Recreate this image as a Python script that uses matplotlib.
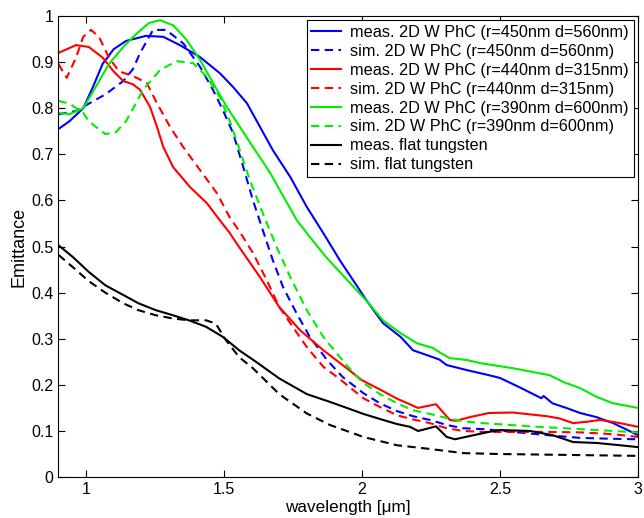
import matplotlib
matplotlib.use("Agg")
import matplotlib.pyplot as plt

plt.rcParams['font.family'] = ['Liberation Sans', 'DejaVu Sans']

# measured / simulated emittance curves (wavelength in um)
wl_blue_meas = [0.9, 0.94, 0.99, 1.025, 1.06, 1.10, 1.145, 1.217, 1.28, 1.34, 1.413, 1.485, 1.533,
                1.583, 1.63, 1.677, 1.74, 1.80, 1.86, 1.92, 2.02, 2.076, 2.14, 2.185, 2.257, 2.28,
                2.307, 2.38, 2.46, 2.50, 2.57, 2.65, 2.658, 2.69, 2.74, 2.79, 2.85, 2.91, 3.0]
em_blue_meas = [0.755, 0.772, 0.80, 0.846, 0.896, 0.928, 0.946, 0.957, 0.955, 0.937, 0.911, 0.876, 0.846,
                0.811, 0.76, 0.709, 0.651, 0.586, 0.529, 0.47, 0.38, 0.334, 0.304, 0.275, 0.26, 0.255,
                0.243, 0.232, 0.221, 0.215, 0.195, 0.171, 0.176, 0.16, 0.15, 0.139, 0.13, 0.117, 0.091]

wl_blue_sim = [0.9, 0.964, 1.01, 1.07, 1.135, 1.17, 1.196, 1.243, 1.29, 1.352, 1.413, 1.46, 1.496,
               1.533, 1.57, 1.605, 1.637, 1.677, 1.714, 1.763, 1.811, 1.873, 1.93, 2.005,
               2.065, 2.127, 2.185, 2.246, 2.307, 2.366, 2.44, 2.548, 2.67, 2.79, 2.91, 3.0]
em_blue_sim = [0.787, 0.794, 0.81, 0.83, 0.859, 0.885, 0.92, 0.97, 0.97, 0.941, 0.89, 0.84, 0.796,
               0.746, 0.672, 0.60, 0.542, 0.47, 0.412, 0.355, 0.304, 0.254, 0.217, 0.182,
               0.16, 0.143, 0.132, 0.124, 0.113, 0.106, 0.104, 0.098, 0.091, 0.085, 0.083, 0.082]

wl_red_meas = [0.9, 0.964, 1.01, 1.06, 1.10, 1.135, 1.17, 1.196, 1.232, 1.257, 1.28, 1.316, 1.377,
               1.438, 1.485, 1.52, 1.557, 1.63, 1.70, 1.775, 1.86, 1.945, 2.0, 2.065, 2.127, 2.203,
               2.268, 2.318, 2.34, 2.39, 2.46, 2.548, 2.67, 2.717, 2.765, 2.815, 2.862, 2.935, 3.0]
em_red_meas = [0.92, 0.937, 0.933, 0.91, 0.88, 0.859, 0.852, 0.84, 0.803, 0.76, 0.716, 0.672, 0.629,
               0.594, 0.557, 0.53, 0.497, 0.434, 0.369, 0.319, 0.275, 0.236, 0.21, 0.19, 0.17, 0.15,
               0.158, 0.124, 0.122, 0.13, 0.139, 0.14, 0.132, 0.127, 0.117, 0.12, 0.124, 0.117, 0.109]

wl_red_sim = [0.9, 0.93, 0.964, 0.99, 1.018, 1.047, 1.083, 1.12, 1.17, 1.22, 1.257, 1.304, 1.352,
              1.413, 1.474, 1.52, 1.557, 1.605, 1.655, 1.70, 1.75, 1.80, 1.86, 1.91, 2.005,
              2.065, 2.127, 2.185, 2.246, 2.307, 2.366, 2.44, 2.67, 2.79, 2.91, 3.0]
em_red_sim = [0.896, 0.866, 0.91, 0.955, 0.97, 0.955, 0.91, 0.88, 0.87, 0.855, 0.811, 0.76, 0.716,
              0.666, 0.616, 0.564, 0.532, 0.486, 0.427, 0.369, 0.325, 0.282, 0.239, 0.217, 0.171,
              0.152, 0.134, 0.125, 0.117, 0.106, 0.10, 0.098, 0.098, 0.097, 0.093, 0.087]

wl_green_meas = [0.9, 0.94, 0.99, 1.035, 1.083, 1.135, 1.18, 1.228, 1.268, 1.316, 1.365, 1.413, 1.46,
                 1.51, 1.557, 1.605, 1.667, 1.728, 1.764, 1.82, 1.87, 1.95, 2.02, 2.076, 2.14, 2.2,
                 2.257, 2.28, 2.318, 2.38, 2.43, 2.548, 2.68, 2.73, 2.79, 2.85, 2.91, 3.0]
em_green_meas = [0.79, 0.787, 0.80, 0.846, 0.896, 0.933, 0.96, 0.985, 0.991, 0.98, 0.948, 0.905, 0.855,
                 0.803, 0.76, 0.716, 0.66, 0.595, 0.557, 0.514, 0.477, 0.425, 0.38, 0.34, 0.312, 0.29,
                 0.28, 0.271, 0.258, 0.254, 0.247, 0.236, 0.221, 0.206, 0.193, 0.174, 0.16, 0.15]

wl_green_sim = [0.9, 0.94, 0.99, 1.01, 1.035, 1.07, 1.108, 1.145, 1.18, 1.207, 1.268, 1.328, 1.388,
                1.438, 1.485, 1.52, 1.557, 1.594, 1.64, 1.69, 1.74, 1.80, 1.86, 1.92,
                1.97, 2.005, 2.065, 2.127, 2.185, 2.246, 2.307, 2.366, 2.44, 2.61, 2.79, 3.0]
em_green_sim = [0.816, 0.81, 0.79, 0.772, 0.76, 0.744, 0.748, 0.772, 0.81, 0.84, 0.883, 0.902, 0.898,
                0.868, 0.824, 0.774, 0.709, 0.644, 0.573, 0.50, 0.434, 0.362, 0.304, 0.26,
                0.225, 0.204, 0.18, 0.16, 0.145, 0.137, 0.128, 0.121, 0.117, 0.11, 0.104, 0.097]

wl_flat_meas = [0.9, 0.953, 1.01, 1.07, 1.135, 1.19, 1.253, 1.315, 1.373, 1.435, 1.496, 1.555, 1.616,
                1.7, 1.8, 1.884, 1.945, 2.005, 2.065, 2.127, 2.174, 2.203, 2.268, 2.307, 2.337, 2.39,
                2.46, 2.50, 2.61, 2.69, 2.765, 2.85, 2.935, 3.0]
em_flat_meas = [0.503, 0.477, 0.445, 0.416, 0.395, 0.377, 0.362, 0.351, 0.34, 0.326, 0.304, 0.275, 0.25,
                0.214, 0.18, 0.163, 0.15, 0.137, 0.126, 0.115, 0.109, 0.10, 0.11, 0.087, 0.082, 0.089,
                0.098, 0.102, 0.10, 0.091, 0.076, 0.074, 0.069, 0.065]

wl_flat_sim = [0.9, 0.953, 1.01, 1.07, 1.135, 1.19, 1.253, 1.315, 1.373, 1.435, 1.47, 1.507, 1.555,
               1.605, 1.7, 1.8, 1.884, 2.005, 2.127, 2.246, 2.366, 2.5, 2.75, 3.0]
em_flat_sim = [0.482, 0.455, 0.425, 0.40, 0.377, 0.362, 0.351, 0.344, 0.34, 0.34, 0.333, 0.297, 0.26,
               0.236, 0.18, 0.138, 0.113, 0.087, 0.069, 0.061, 0.052, 0.05, 0.048, 0.046]

labels = [
    "meas. 2D W PhC (r=450nm d=560nm)",
    "sim. 2D W PhC (r=450nm d=560nm)",
    "meas. 2D W PhC (r=440nm d=315nm)",
    "sim. 2D W PhC (r=440nm d=315nm)",
    "meas. 2D W PhC (r=390nm d=600nm)",
    "sim. 2D W PhC (r=390nm d=600nm)",
    "meas. flat tungsten",
    "sim. flat tungsten",
]

series = [
    (wl_blue_meas, em_blue_meas, '#0000ff', '-'),
    (wl_blue_sim, em_blue_sim, '#0000ff', '--'),
    (wl_red_meas, em_red_meas, '#ff0000', '-'),
    (wl_red_sim, em_red_sim, '#ff0000', '--'),
    (wl_green_meas, em_green_meas, '#00ee00', '-'),
    (wl_green_sim, em_green_sim, '#00ee00', '--'),
    (wl_flat_meas, em_flat_meas, 'black', '-'),
    (wl_flat_sim, em_flat_sim, 'black', '--'),
]

fig = plt.figure(figsize=(6.44, 5.18), dpi=100)
ax = fig.add_axes([0.0907, 0.079, 0.9, 0.89])

dash = (0, (4, 2.6))
for (x, y, c, ls), lab in zip(series, labels):
    ax.plot(x, y, color=c, lw=1.5, linestyle=dash if ls == '--' else '-', label=lab)

ax.set_xlim(0.9, 3.0)
ax.set_ylim(0, 1)
ax.set_xticks([1, 1.5, 2, 2.5, 3])
ax.set_xticklabels(['1', '1.5', '2', '2.5', '3'])
ax.set_yticks([0, 0.1, 0.2, 0.3, 0.4, 0.5, 0.6, 0.7, 0.8, 0.9, 1])
ax.set_yticklabels(['0', '0.1', '0.2', '0.3', '0.4', '0.5', '0.6', '0.7', '0.8', '0.9', '1'])
ax.tick_params(direction='in', top=True, right=True, length=5, width=0.8, labelsize=11.5)
for s in ax.spines.values():
    s.set_linewidth(0.8)

ax.set_xlabel('wavelength [\u03bcm]', fontsize=12.3, labelpad=2)
ax.set_ylabel('Emittance', fontsize=13, labelpad=3)

leg = ax.legend(loc='upper right', fontsize=11.7, frameon=True, fancybox=False,
                edgecolor='black', framealpha=1, handlelength=1.8, handletextpad=0.6,
                labelspacing=0.24, borderpad=0.3, borderaxespad=0.25)
leg.get_frame().set_linewidth(0.8)

fig.savefig('out.png', dpi=100)
